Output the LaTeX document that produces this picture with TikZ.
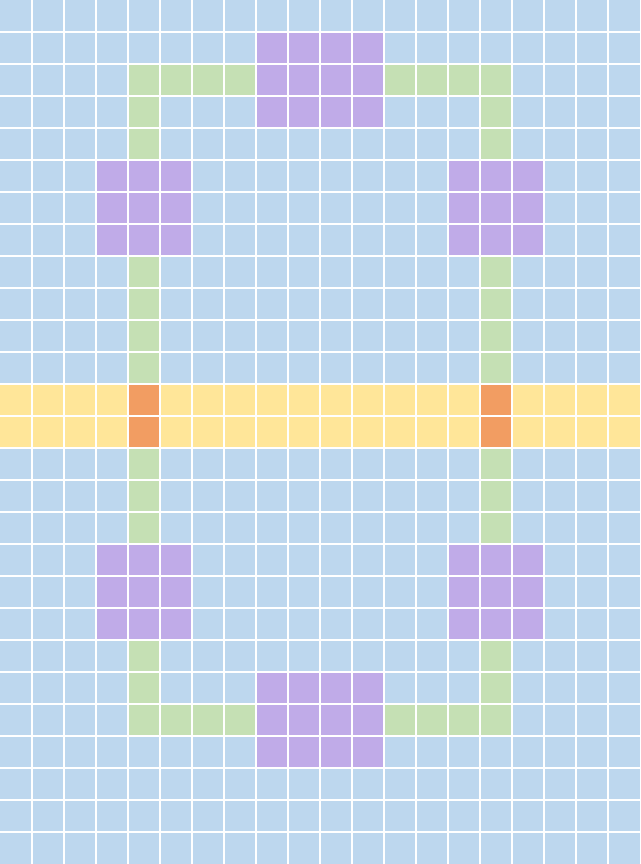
\documentclass[tikz,border=0pt]{standalone}
\definecolor{cellblue}{HTML}{BDD7EE}
\definecolor{cellpurple}{HTML}{C0ABE8}
\definecolor{cellgreen}{HTML}{C5E0B4}
\definecolor{cellyellow}{HTML}{FFE699}
\definecolor{cellorange}{HTML}{F29D62}
\tikzset{
  gridline/.style={draw=white, line width=0.06cm},
  room/.style={fill=cellpurple},
  path/.style={fill=cellgreen},
  road/.style={fill=cellyellow},
  gate/.style={fill=cellorange}
}
\begin{document}
\begin{tikzpicture}[x=1cm,y=-1cm]
\useasboundingbox (0,0) rectangle (20,27);
\fill[cellblue] (0,0) rectangle (20,27);
% road band
\path[road] (0,12) rectangle (20,14);
% green paths
\path[path] (4,2) rectangle (8,3);
\path[path] (12,2) rectangle (16,3);
\path[path] (4,3) rectangle (5,5);
\path[path] (15,3) rectangle (16,5);
\path[path] (4,8) rectangle (5,12);
\path[path] (15,8) rectangle (16,12);
\path[path] (4,14) rectangle (5,17);
\path[path] (15,14) rectangle (16,17);
\path[path] (4,20) rectangle (5,23);
\path[path] (15,20) rectangle (16,23);
\path[path] (4,22) rectangle (8,23);
\path[path] (12,22) rectangle (16,23);
% gates
\path[gate] (4,12) rectangle (5,14);
\path[gate] (15,12) rectangle (16,14);
% purple rooms
\path[room] (8,1) rectangle (12,4);
\path[room] (3,5) rectangle (6,8);
\path[room] (14,5) rectangle (17,8);
\path[room] (3,17) rectangle (6,20);
\path[room] (14,17) rectangle (17,20);
\path[room] (8,21) rectangle (12,24);
% grid (inner lines only)
\foreach \i in {1,...,19} \draw[gridline] (\i,0) -- (\i,27);
\foreach \j in {1,...,26} \draw[gridline] (0,\j) -- (20,\j);
\end{tikzpicture}
\end{document}
